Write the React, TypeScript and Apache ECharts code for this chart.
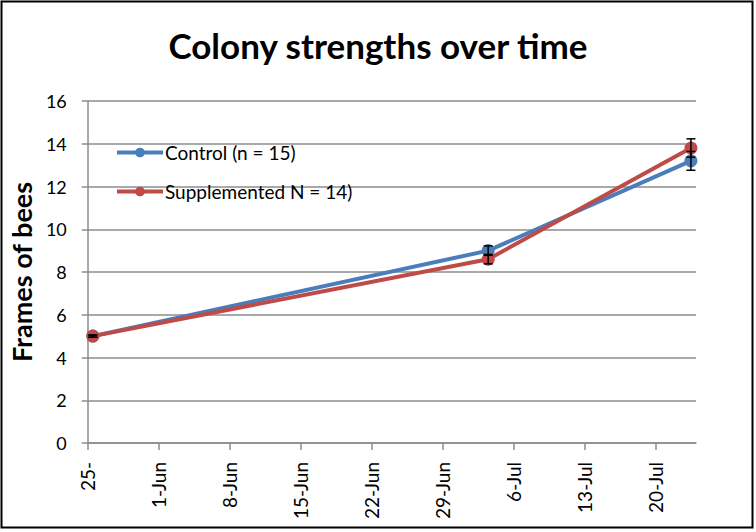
import { useEffect, useRef } from 'react';
import * as echarts from 'echarts';

// sample dates, axis starts at 25-May; Excel puts each point in the middle of its day
const axisStart = '2013-05-25';
const sampleDates = ['2013-05-25', '2013-07-03', '2013-07-23'];
const tickLabels = ['25-', '1-Jun', '8-Jun', '15-Jun', '22-Jun', '29-Jun', '6-Jul', '13-Jul', '20-Jul'];

const controlName = 'Control (n = 15)';
const controlValues = [5.0, 9.0, 13.2];
const controlErrors = [0.05, 0.22, 0.44];

const suppName = 'Supplemented N = 14)';
const suppValues = [5.0, 8.6, 13.8];
const suppErrors = [0.05, 0.22, 0.43];

const BLUE = '#4A7EBB';
const RED = '#BE4B48';
const FONT = 'Lato, "Open Sans", sans-serif';

function dayOffset(d: string) {
  const ms = new Date(d + 'T00:00:00Z').getTime() - new Date(axisStart + 'T00:00:00Z').getTime();
  return ms / 86400000 + 0.5;
}

export default function App() {
  const chartRef = useRef<HTMLDivElement>(null);

  useEffect(() => {
    document.body.style.margin = '0';
    if (!chartRef.current) return;
    const chart = echarts.init(chartRef.current, null, { renderer: 'svg' });

    const xs = sampleDates.map(dayOffset);
    const controlData = xs.map((x, i) => [x, controlValues[i]]);
    const suppData = xs.map((x, i) => [x, suppValues[i]]);
    const errData = [
      ...xs.map((x, i) => [x, controlValues[i] - controlErrors[i], controlValues[i] + controlErrors[i]]),
      ...xs.map((x, i) => [x, suppValues[i] - suppErrors[i], suppValues[i] + suppErrors[i]]),
    ];

    const option: echarts.EChartsOption = {
      animation: false,
      backgroundColor: '#fff',
      title: {
        text: 'Colony strengths over time',
        left: 'center',
        top: 22,
        textStyle: { fontFamily: FONT, fontSize: 35, fontWeight: 'bold', color: '#000' },
      },
      grid: { left: 85, right: 60, top: 101, bottom: 89 },
      legend: {
        data: [controlName, suppName],
        orient: 'vertical',
        left: 110,
        top: 138,
        itemWidth: 46,
        itemHeight: 12,
        itemGap: 20,
        lineStyle: { width: 4 },
        textStyle: { fontFamily: FONT, fontSize: 19, color: '#000', padding: [0, 0, 0, -3] },
      },
      xAxis: {
        type: 'value',
        min: 0,
        max: 60,
        interval: 7,
        splitLine: { show: false },
        axisLine: { lineStyle: { color: '#8c8c8c', width: 1.5 } },
        axisTick: { show: true, length: 7, lineStyle: { color: '#8c8c8c', width: 1.5 } },
        axisLabel: {
          rotate: 90,
          margin: 19,
          showMaxLabel: false,
          fontFamily: FONT,
          fontSize: 19,
          color: '#000',
          formatter: (v: number) => tickLabels[Math.round(v / 7)] ?? '',
        },
      },
      yAxis: {
        type: 'value',
        min: 0,
        max: 16,
        interval: 2,
        name: 'Frames of bees',
        nameLocation: 'middle',
        nameGap: 50,
        nameTextStyle: { fontFamily: FONT, fontSize: 27, fontWeight: 'bold', color: '#000' },
        axisLine: { show: true, lineStyle: { color: '#8c8c8c', width: 1.5 } },
        axisTick: { show: true, length: 6, lineStyle: { color: '#8c8c8c', width: 1.5 } },
        axisLabel: { fontFamily: FONT, fontSize: 18, color: '#000', margin: 21 },
        splitLine: { lineStyle: { color: '#8c8c8c', width: 1.5 } },
      },
      series: [
        {
          name: controlName,
          type: 'line',
          data: controlData,
          symbol: 'circle',
          symbolSize: 13,
          lineStyle: { color: BLUE, width: 4 },
          itemStyle: { color: BLUE },
          z: 3,
        },
        {
          name: suppName,
          type: 'line',
          data: suppData,
          symbol: 'circle',
          symbolSize: 13,
          lineStyle: { color: RED, width: 4 },
          itemStyle: { color: RED },
          z: 4,
        },
        {
          name: 'errors',
          type: 'custom',
          z: 5,
          data: errData,
          renderItem: (params: any, api: any) => {
            const x = api.value(0);
            const lo = api.coord([x, api.value(1)]);
            const hi = api.coord([x, api.value(2)]);
            const hw = 4.5;
            const st = { stroke: '#000', lineWidth: 1.5 };
            return {
              type: 'group',
              children: [
                { type: 'line', shape: { x1: lo[0], y1: lo[1], x2: hi[0], y2: hi[1] }, style: st },
                { type: 'line', shape: { x1: lo[0] - hw, y1: lo[1], x2: lo[0] + hw, y2: lo[1] }, style: st },
                { type: 'line', shape: { x1: hi[0] - hw, y1: hi[1], x2: hi[0] + hw, y2: hi[1] }, style: st },
              ],
            };
          },
        },
      ],
      graphic: [
        {
          type: 'rect',
          shape: { x: 1.5, y: 1.5, width: 751, height: 526 },
          style: { fill: 'none', stroke: '#000', lineWidth: 2 },
          silent: true,
        },
      ],
    };

    chart.setOption(option);
    return () => chart.dispose();
  }, []);

  return <div ref={chartRef} style={{ width: 756, height: 532 }} />;
}
